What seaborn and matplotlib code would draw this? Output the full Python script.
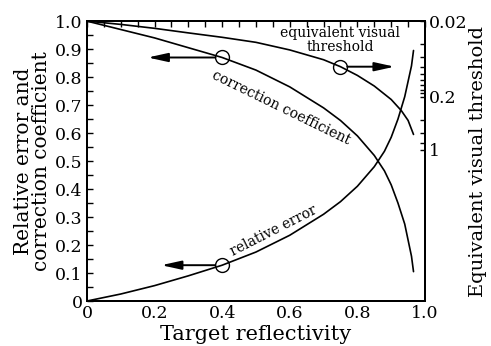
import numpy as np
import pandas as pd
import matplotlib
matplotlib.use("Agg")
import matplotlib.pyplot as plt
import seaborn as sns
from matplotlib.ticker import FixedLocator, NullFormatter, MultipleLocator

# ---- data ----
reflectivity = [0.0, 0.1, 0.2, 0.3, 0.4, 0.5, 0.6, 0.7, 0.75, 0.8, 0.85,
                0.88, 0.9, 0.92, 0.94, 0.96, 0.966]
correction_coef = [1.0, 0.97, 0.94, 0.905, 0.87, 0.825, 0.765, 0.69, 0.645,
                   0.59, 0.52, 0.465, 0.415, 0.35, 0.275, 0.16, 0.105]
relative_error = [0.0, 0.025, 0.055, 0.09, 0.128, 0.175, 0.235, 0.31, 0.355,
                  0.41, 0.48, 0.535, 0.585, 0.65, 0.73, 0.84, 0.895]
vis_refl = [0.0, 0.1, 0.2, 0.3, 0.4, 0.5, 0.6, 0.7, 0.75, 0.8, 0.85, 0.9,
            0.93, 0.95, 0.966]
visual_threshold = [0.02, 0.0221, 0.0249, 0.0286, 0.0327, 0.0381, 0.048,
                    0.0646, 0.0798, 0.104, 0.1436, 0.216, 0.303, 0.408, 0.624]

x_ticks = [0, 0.2, 0.4, 0.6, 0.8, 1.0]
x_ticklabels = ["0", "0.2", "0.4", "0.6", "0.8", "1.0"]
y_ticks = [0, 0.1, 0.2, 0.3, 0.4, 0.5, 0.6, 0.7, 0.8, 0.9, 1.0]
y_ticklabels = ["0", "0.1", "0.2", "0.3", "0.4", "0.5", "0.6", "0.7", "0.8", "0.9", "1.0"]
r_ticks = [0.02, 0.2, 1]
r_ticklabels = ["0.02", "0.2", "1"]
r_minor = [0.04, 0.06, 0.08, 0.1, 0.12, 0.14, 0.16, 0.18, 0.4, 0.6, 0.8]

sns.set_theme(style="white")
plt.rcParams['font.family'] = ['DejaVu Serif']
plt.rcParams['mathtext.fontset'] = 'dejavuserif'

fig = plt.figure(figsize=(4.91, 3.46), dpi=100)
ax = fig.add_axes([0.177, 0.130, 0.6886, 0.809])

df_main = pd.DataFrame({"r": reflectivity, "cc": correction_coef, "re": relative_error})
df_vis = pd.DataFrame({"r": vis_refl, "v": visual_threshold})

lw = 1.2
sns.lineplot(data=df_main, x="r", y="cc", ax=ax, color="black", lw=lw,
             sort=False, estimator=None)
sns.lineplot(data=df_main, x="r", y="re", ax=ax, color="black", lw=lw,
             sort=False, estimator=None)

ax.set_xlim(0, 1.0)
ax.set_ylim(0, 1.0)
ax.set_xticks(x_ticks)
ax.set_xticklabels(x_ticklabels)
ax.set_yticks(y_ticks)
ax.set_yticklabels(y_ticklabels)
ax.xaxis.set_minor_locator(MultipleLocator(0.05))
ax.yaxis.set_minor_locator(MultipleLocator(0.05))
ax.tick_params(axis="both", which="both", direction="in", length=4, width=1.0,
               labelsize=12.5, pad=3, colors="black")
ax.tick_params(axis="x", which="both", top=True)
ax.tick_params(axis="x", which="both", labeltop=False)
ax.tick_params(axis="y", which="both", right=False)
for s in ax.spines.values():
    s.set_linewidth(1.4)
    s.set_color("black")

ax.set_xlabel("Target reflectivity", fontsize=15, labelpad=2, color="black")
ax.set_ylabel("Relative error and\ncorrection coefficient", fontsize=14.5,
              labelpad=3, color="black", linespacing=0.9)

ax2 = ax.twinx()
sns.lineplot(data=df_vis, x="r", y="v", ax=ax2, color="black", lw=lw,
             sort=False, estimator=None)
ax2.set_yscale("log")
ax2.set_ylim(98, 0.02)
ax2.yaxis.set_major_locator(FixedLocator(r_ticks))
ax2.set_yticklabels(r_ticklabels)
ax2.yaxis.set_minor_locator(FixedLocator(r_minor))
ax2.yaxis.set_minor_formatter(NullFormatter())
ax2.tick_params(axis="y", which="both", direction="in", length=3.5, width=1.0,
                labelsize=12.5, pad=3, colors="black")
ax2.set_ylabel("Equivalent visual threshold", fontsize=14, labelpad=1,
               color="black")
for s in ax2.spines.values():
    s.set_linewidth(1.4)
    s.set_color("black")

# circles and arrows at the curve points
i04 = reflectivity.index(0.4)
i075 = vis_refl.index(0.75)
cx = reflectivity[i04]
for yv, xt in [(correction_coef[i04], 0.18), (relative_error[i04], 0.22)]:
    ax.plot([cx], [yv], marker="o", ms=10, mfc="none", mec="black", mew=1.0)
    ax.annotate("", xy=(xt, yv), xytext=(cx - 0.02, yv),
                arrowprops=dict(arrowstyle="-|>,head_length=1.0,head_width=0.22",
                                color="black", lw=1.4, shrinkA=0, shrinkB=0))
vx = vis_refl[i075]
vy = visual_threshold[i075]
ax2.plot([vx], [vy], marker="o", ms=10, mfc="none", mec="black", mew=1.0)
ax2.annotate("", xy=(0.91, vy), xytext=(vx + 0.02, vy),
             arrowprops=dict(arrowstyle="-|>,head_length=1.0,head_width=0.22",
                             color="black", lw=1.4, shrinkA=0, shrinkB=0))

ax.text(0.574, 0.689, "correction coefficient", rotation=-26, fontsize=10,
        ha="center", va="center", rotation_mode="anchor", color="black")
ax.text(0.551, 0.25, "relative error", rotation=27, fontsize=10,
        ha="center", va="center", rotation_mode="anchor", color="black")
ax.text(0.749, 0.932, "equivalent visual\nthreshold", fontsize=10,
        ha="center", va="center", color="black", linespacing=0.95)

fig.savefig("out.png", dpi=100)
